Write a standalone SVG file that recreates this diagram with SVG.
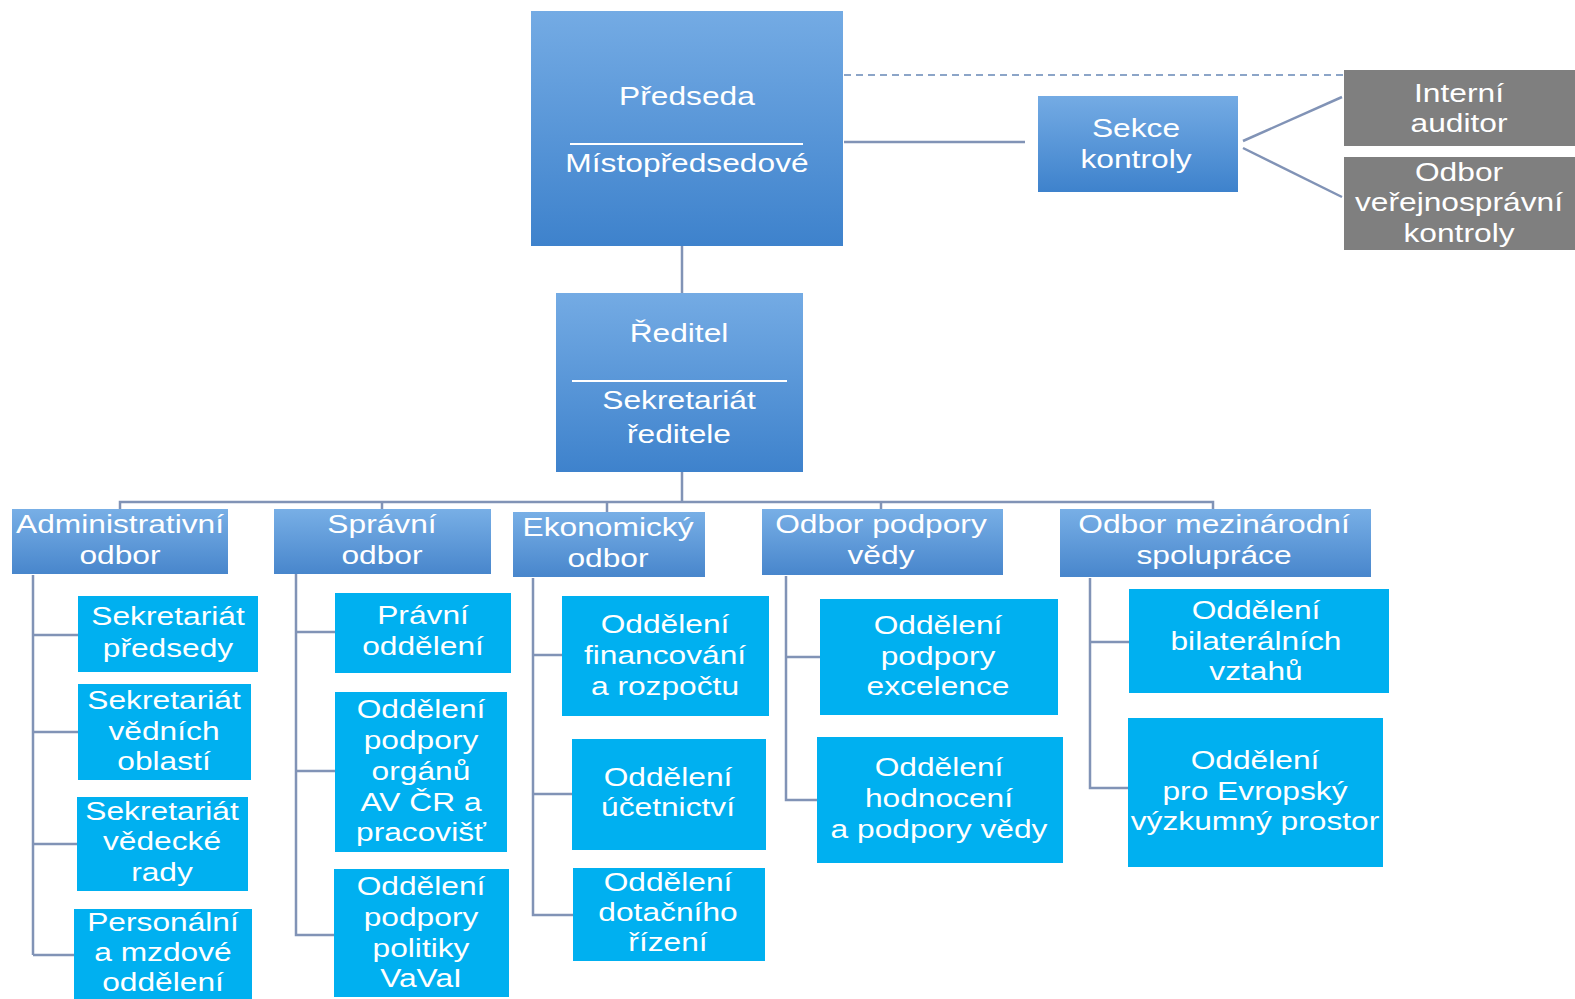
<svg xmlns="http://www.w3.org/2000/svg" width="1575" height="999" viewBox="0 0 1575 999">
<defs>
<linearGradient id="gb" x1="0" y1="0" x2="0" y2="1">
<stop offset="0" stop-color="#74ABE4"/>
<stop offset="1" stop-color="#3E82CC"/>
</linearGradient>
<linearGradient id="gb2" x1="0" y1="0" x2="0" y2="1">
<stop offset="0" stop-color="#78AFE6"/>
<stop offset="1" stop-color="#4886CC"/>
</linearGradient>
</defs>
<style>
.t{font-family:"Liberation Sans",Arial,sans-serif;font-size:26px;fill:#fff;text-anchor:middle}
.g{fill:url(#gb)}
.g2{fill:url(#gb2)}
.c{fill:#00B0F0}
.gr{fill:#7F7F7F}
.ln{stroke:#8193B6;stroke-width:2.5;fill:none}
.sep{stroke:#fff;stroke-width:2}
</style>
<rect width="1575" height="999" fill="#fff"/>
<g id="connectors">
<line x1="844" y1="75" x2="1344" y2="75" stroke="#8CA5C8" stroke-width="2" stroke-dasharray="7 5"/>
<line class="ln" x1="844" y1="142" x2="1025" y2="142"/>
<line class="ln" x1="1243" y1="141" x2="1342" y2="97"/>
<line class="ln" x1="1243" y1="148" x2="1342" y2="197"/>
<line class="ln" x1="682" y1="246" x2="682" y2="293"/>
<path class="ln" d="M682 472V502M120 509V502H1213V509M382 502V509M607 502V512M881 502V509"/>
<path class="ln" d="M33 575V955M33 635H78M33 732H78M33 844H77M33 955H74"/>
<path class="ln" d="M296 574V935H334M296 632H335M296 771H335"/>
<path class="ln" d="M533 578V915H573M533 655H562M533 794H572"/>
<path class="ln" d="M786 576V800H817M786 657H820"/>
<path class="ln" d="M1090 578V788H1128M1090 642H1129"/>
</g>
<g id="predseda">
<rect class="g" x="531" y="11" width="312" height="235"/>
<line class="sep" x1="570" y1="144" x2="803" y2="144"/>
<text class="t" transform="translate(687,0) scale(1.22,1)" x="0" y="105">Předseda</text>
<text class="t" transform="translate(687,0) scale(1.22,1)" x="0" y="172">Místopředsedové</text>
</g>
<g id="sekce">
<rect class="g" x="1038" y="96" width="200" height="96"/>
<text class="t" transform="translate(1136,0) scale(1.22,1)"><tspan x="0" y="137">Sekce</tspan><tspan x="0" y="168">kontroly</tspan></text>
</g>
<g id="interni">
<rect class="gr" x="1344" y="70" width="231" height="76"/>
<text class="t" transform="translate(1459,0) scale(1.22,1)"><tspan x="0" y="102">Interní</tspan><tspan x="0" y="132">auditor</tspan></text>
</g>
<g id="odbor-vs">
<rect class="gr" x="1344" y="157" width="231" height="93"/>
<text class="t" transform="translate(1459,0) scale(1.22,1)"><tspan x="0" y="181">Odbor</tspan><tspan x="0" y="211">veřejnosprávní</tspan><tspan x="0" y="242">kontroly</tspan></text>
</g>
<g id="reditel">
<rect class="g" x="556" y="293" width="247" height="179"/>
<line class="sep" x1="572" y1="381" x2="787" y2="381"/>
<text class="t" transform="translate(679,0) scale(1.22,1)" x="0" y="342">Ředitel</text>
<text class="t" transform="translate(679,0) scale(1.22,1)"><tspan x="0" y="409">Sekretariát</tspan><tspan x="0" y="443">ředitele</tspan></text>
</g>
<g id="admin">
<rect class="g2" x="12" y="509" width="216" height="65"/>
<text class="t" transform="translate(120,0) scale(1.22,1)"><tspan x="0" y="533">Administrativní</tspan><tspan x="0" y="564">odbor</tspan></text>
</g>
<g id="spravni">
<rect class="g2" x="274" y="509" width="217" height="65"/>
<text class="t" transform="translate(382,0) scale(1.22,1)"><tspan x="0" y="533">Správní</tspan><tspan x="0" y="564">odbor</tspan></text>
</g>
<g id="ekonom">
<rect class="g2" x="513" y="512" width="192" height="65"/>
<text class="t" transform="translate(608,0) scale(1.22,1)"><tspan x="0" y="536">Ekonomický</tspan><tspan x="0" y="567">odbor</tspan></text>
</g>
<g id="podpory">
<rect class="g2" x="762" y="509" width="241" height="66"/>
<text class="t" transform="translate(881,0) scale(1.22,1)"><tspan x="0" y="533">Odbor podpory</tspan><tspan x="0" y="564">vědy</tspan></text>
</g>
<g id="mezinar">
<rect class="g2" x="1060" y="509" width="311" height="68"/>
<text class="t" transform="translate(1214,0) scale(1.22,1)"><tspan x="0" y="533">Odbor mezinárodní</tspan><tspan x="0" y="564">spolupráce</tspan></text>
</g>
<g id="sek-predsedy">
<rect class="c" x="78" y="596" width="180" height="76"/>
<text class="t" transform="translate(168,0) scale(1.22,1)"><tspan x="0" y="625">Sekretariát</tspan><tspan x="0" y="657">předsedy</tspan></text>
</g>
<g id="sek-vednich">
<rect class="c" x="78" y="684" width="173" height="96"/>
<text class="t" transform="translate(164,0) scale(1.22,1)"><tspan x="0" y="709">Sekretariát</tspan><tspan x="0" y="740">vědních</tspan><tspan x="0" y="770">oblastí</tspan></text>
</g>
<g id="sek-rady">
<rect class="c" x="77" y="797" width="171" height="94"/>
<text class="t" transform="translate(162,0) scale(1.22,1)"><tspan x="0" y="820">Sekretariát</tspan><tspan x="0" y="850">vědecké</tspan><tspan x="0" y="881">rady</tspan></text>
</g>
<g id="personalni">
<rect class="c" x="74" y="909" width="178" height="95"/>
<text class="t" transform="translate(163,0) scale(1.22,1)"><tspan x="0" y="931">Personální</tspan><tspan x="0" y="961">a mzdové</tspan><tspan x="0" y="991">oddělení</tspan></text>
</g>
<g id="pravni">
<rect class="c" x="335" y="593" width="176" height="80"/>
<text class="t" transform="translate(423,0) scale(1.22,1)"><tspan x="0" y="624">Právní</tspan><tspan x="0" y="655">oddělení</tspan></text>
</g>
<g id="organu">
<rect class="c" x="335" y="692" width="172" height="160"/>
<text class="t" transform="translate(421,0) scale(1.22,1)"><tspan x="0" y="718">Oddělení</tspan><tspan x="0" y="749">podpory</tspan><tspan x="0" y="780">orgánů</tspan><tspan x="0" y="811">AV ČR a</tspan><tspan x="0" y="841">pracovišť</tspan></text>
</g>
<g id="politiky">
<rect class="c" x="334" y="869" width="175" height="128"/>
<text class="t" transform="translate(421,0) scale(1.22,1)"><tspan x="0" y="895">Oddělení</tspan><tspan x="0" y="926">podpory</tspan><tspan x="0" y="957">politiky</tspan><tspan x="0" y="987">VaVaI</tspan></text>
</g>
<g id="financovani">
<rect class="c" x="562" y="596" width="207" height="120"/>
<text class="t" transform="translate(665,0) scale(1.22,1)"><tspan x="0" y="633">Oddělení</tspan><tspan x="0" y="664">financování</tspan><tspan x="0" y="695">a rozpočtu</tspan></text>
</g>
<g id="ucetnictvi">
<rect class="c" x="572" y="739" width="194" height="111"/>
<text class="t" transform="translate(668,0) scale(1.22,1)"><tspan x="0" y="786">Oddělení</tspan><tspan x="0" y="816">účetnictví</tspan></text>
</g>
<g id="dotacniho">
<rect class="c" x="573" y="868" width="192" height="93"/>
<text class="t" transform="translate(668,0) scale(1.22,1)"><tspan x="0" y="891">Oddělení</tspan><tspan x="0" y="921">dotačního</tspan><tspan x="0" y="951">řízení</tspan></text>
</g>
<g id="excelence">
<rect class="c" x="820" y="599" width="238" height="116"/>
<text class="t" transform="translate(938,0) scale(1.22,1)"><tspan x="0" y="634">Oddělení</tspan><tspan x="0" y="665">podpory</tspan><tspan x="0" y="695">excelence</tspan></text>
</g>
<g id="hodnoceni">
<rect class="c" x="817" y="737" width="246" height="126"/>
<text class="t" transform="translate(939,0) scale(1.22,1)"><tspan x="0" y="776">Oddělení</tspan><tspan x="0" y="807">hodnocení</tspan><tspan x="0" y="838">a podpory vědy</tspan></text>
</g>
<g id="bilateral">
<rect class="c" x="1129" y="589" width="260" height="104"/>
<text class="t" transform="translate(1256,0) scale(1.22,1)"><tspan x="0" y="619">Oddělení</tspan><tspan x="0" y="650">bilaterálních</tspan><tspan x="0" y="680">vztahů</tspan></text>
</g>
<g id="evropsky">
<rect class="c" x="1128" y="718" width="255" height="149"/>
<text class="t" transform="translate(1255,0) scale(1.22,1)"><tspan x="0" y="769">Oddělení</tspan><tspan x="0" y="800">pro Evropský</tspan><tspan x="0" y="830">výzkumný prostor</tspan></text>
</g>
</svg>
